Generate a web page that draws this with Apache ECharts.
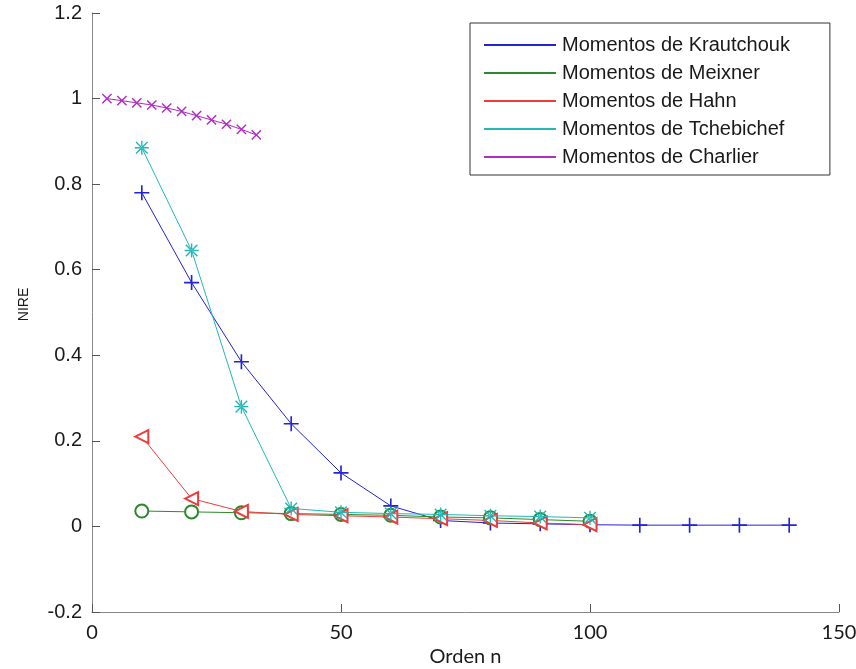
<!DOCTYPE html>
<html>
<head>
<meta charset="utf-8">
<script src="https://cdn.jsdelivr.net/npm/echarts@6/dist/echarts.min.js"></script>
<style>
  html, body { margin: 0; padding: 0; background: #fff; }
  #chart { width: 856px; height: 669px; }
</style>
</head>
<body>
<div id="chart"></div>
<script>
// Orders n sampled for each family of moments
const ordersMain = [10, 20, 30, 40, 50, 60, 70, 80, 90, 100];
const ordersKrautchouk = [10, 20, 30, 40, 50, 60, 70, 80, 90, 100, 110, 120, 130, 140];
const ordersCharlier = [3, 6, 9, 12, 15, 18, 21, 24, 27, 30, 33];

// NIRE values per family
const nireKrautchouk = [0.78, 0.57, 0.385, 0.24, 0.125, 0.048, 0.014, 0.008, 0.006, 0.004, 0.003, 0.003, 0.003, 0.003];
const nireMeixner = [0.036, 0.034, 0.032, 0.030, 0.028, 0.026, 0.022, 0.020, 0.016, 0.012];
const nireHahn = [0.21, 0.065, 0.035, 0.028, 0.025, 0.022, 0.018, 0.014, 0.008, 0.004];
const nireTchebichef = [0.885, 0.645, 0.28, 0.042, 0.033, 0.030, 0.028, 0.025, 0.023, 0.020];
const nireCharlier = [1.0, 0.995, 0.99, 0.985, 0.978, 0.97, 0.96, 0.95, 0.94, 0.928, 0.915];

const seriesNames = [
  'Momentos de Krautchouk',
  'Momentos de Meixner',
  'Momentos de Hahn',
  'Momentos de Tchebichef',
  'Momentos de Charlier'
];
const xTicks = [0, 50, 100, 150];

const colors = ['#2323d8', '#2a8a2a', '#ee3b3b', '#22b8b8', '#b02cc0'];

const ARIAL = '"Liberation Sans", Arial, sans-serif';
const NARROW = 'Lato, sans-serif';

// Marker shapes: plus, rotated plus (cross) and asterisk drawn as filled bars
const plusPath = 'path://M0,4.45H10V5.55H0Z M4.45,0H5.55V10H4.45Z';
const starPath = 'path://M0,4.5H10V5.5H0Z M4.5,0H5.5V10H4.5Z M1.2,0.5L0.5,1.2L8.8,9.5L9.5,8.8Z M8.8,0.5L9.5,1.2L1.2,9.5L0.5,8.8Z';

function pairs(xs, ys) {
  return xs.map((x, i) => [x, ys[i]]);
}

function lineSeries(idx, data, symbol, size, extra) {
  return Object.assign({
    name: seriesNames[idx],
    type: 'line',
    data: data,
    symbol: symbol,
    symbolSize: size,
    showAllSymbol: true,
    animation: false,
    lineStyle: { color: colors[idx], width: 1 },
    itemStyle: { color: colors[idx], borderWidth: 1 },
    emphasis: { disabled: true }
  }, extra || {});
}

const chart = echarts.init(document.getElementById('chart'), null, { renderer: 'canvas' });

chart.setOption({
  backgroundColor: '#ffffff',
  animation: false,
  grid: { left: 92, right: 17, top: 13, bottom: 57, containLabel: false, outerBoundsMode: 'none' },
  legend: {
    orient: 'vertical',
    left: 470,
    top: 23,
    padding: [12, 40, 8, 14],
    itemGap: 8,
    itemWidth: 72,
    itemHeight: 2,
    icon: 'rect',
    backgroundColor: '#ffffff',
    borderColor: '#333333',
    borderWidth: 1,
    textStyle: { fontFamily: ARIAL, fontSize: 20, color: '#1a1a1a', lineHeight: 20, padding: [0, 0, 0, 1] },
    data: seriesNames.map((n, i) => ({ name: n, itemStyle: { color: colors[i] } }))
  },
  xAxis: {
    type: 'value',
    min: 0,
    max: 150,
    interval: 50,
    name: 'Orden n',
    nameLocation: 'middle',
    nameGap: 35,
    nameMoveOverlap: false,
    nameTextStyle: { fontFamily: NARROW, fontSize: 20, color: '#1a1a1a' },
    axisLine: { show: true, onZero: false, lineStyle: { color: '#888', width: 1 } },
    axisTick: { show: true, inside: true, length: 8, lineStyle: { color: '#555' } },
    axisLabel: { fontFamily: NARROW, fontSize: 20, color: '#1a1a1a', margin: 11,
      formatter: v => (xTicks.indexOf(v) >= 0 ? String(v) : '') },
    splitLine: { show: false }
  },
  yAxis: {
    type: 'value',
    min: -0.2,
    max: 1.2,
    interval: 0.2,
    name: 'NIRE',
    nameLocation: 'middle',
    nameGap: 61,
    nameMoveOverlap: false,
    nameRotate: 90,
    nameTextStyle: { fontFamily: ARIAL, fontSize: 14, color: '#1a1a1a', padding: [0, 0, 0, 16] },
    axisLine: { show: true, onZero: false, lineStyle: { color: '#888', width: 1 } },
    axisTick: { show: true, inside: true, length: 8, lineStyle: { color: '#555' } },
    axisLabel: { fontFamily: ARIAL, fontSize: 20, color: '#1a1a1a', margin: 10,
      formatter: v => String(Math.round(v * 10) / 10) },
    splitLine: { show: false }
  },
  series: [
    lineSeries(0, pairs(ordersKrautchouk, nireKrautchouk), plusPath, 15),
    lineSeries(1, pairs(ordersMain, nireMeixner), 'emptyCircle', 13),
    lineSeries(2, pairs(ordersMain, nireHahn), 'emptyTriangle', 13, { symbolRotate: 90 }),
    lineSeries(3, pairs(ordersMain, nireTchebichef), starPath, 14),
    lineSeries(4, pairs(ordersCharlier, nireCharlier), plusPath, 13, { symbolRotate: 45 })
  ]
});
</script>
</body>
</html>
